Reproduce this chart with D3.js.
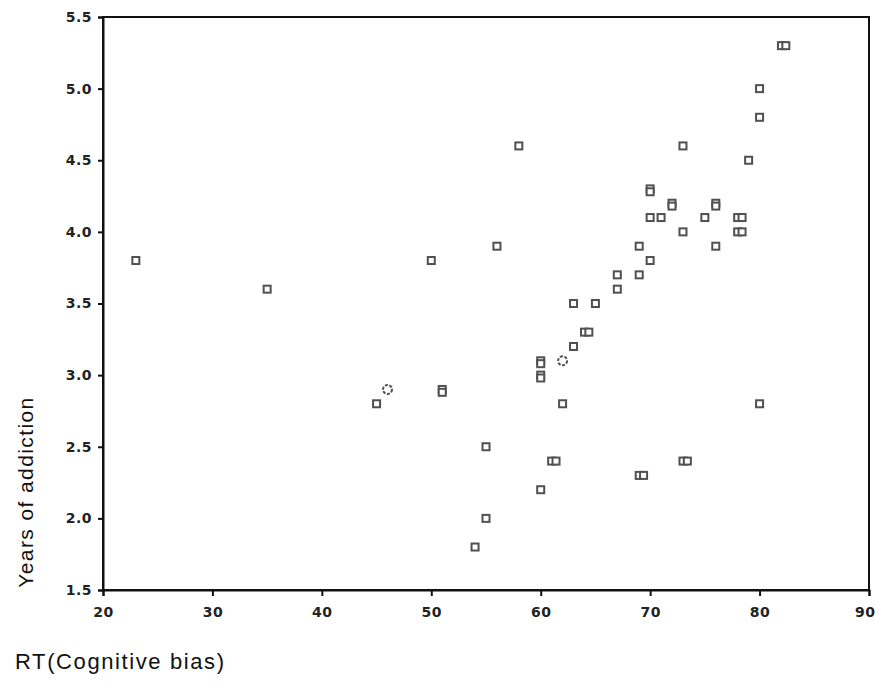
<!DOCTYPE html>
<html lang="en">
<head>
	<meta charset="UTF-8">
	<title>RT vs Years of addiction</title>
	<script type="text/javascript" src="https://cdn.jsdelivr.net/npm/d3@7/dist/d3.min.js"></script>
	<style>
		body {
			margin: 0;
			background: #fff;
		}

		svg text {
			font-family: "DejaVu Sans", sans-serif;
		}

		.tick text {
			font-size: 14px;
			font-weight: bold;
			letter-spacing: 0.5px;
			fill: #222;
		}

		.axis-title {
			font-family: "Liberation Sans", Arial, sans-serif;
			font-size: 22px;
			letter-spacing: 1.6px;
			fill: #111;
		}
	</style>
</head>
<body>
<div id="chart"></div>

<script type="text/javascript">
	// RT (cognitive bias) for each subject
	var rtValues = [23, 35, 45, 46, 50, 51, 51, 56, 58, 54, 55, 55, 60, 61, 61.4,
		60, 60, 60, 60, 62, 62, 63, 63, 64, 64.4, 65, 67, 67, 69, 69, 70, 70, 70, 70,
		71, 72, 72, 73, 73, 73, 73.4, 69, 69.4, 75, 76, 76, 76, 78, 78.4, 78, 78.4,
		79, 80, 80, 80, 82, 82.4];
	// years of addiction for each subject
	var yearsValues = [3.8, 3.6, 2.8, 2.9, 3.8, 2.9, 2.88, 3.9, 4.6, 1.8, 2.0, 2.5, 2.2, 2.4, 2.4,
		3.1, 3.08, 3.0, 2.98, 2.8, 3.1, 3.2, 3.5, 3.3, 3.3, 3.5, 3.6, 3.7, 3.7, 3.9, 3.8, 4.1, 4.3, 4.28,
		4.1, 4.2, 4.18, 4.6, 4.0, 2.4, 2.4, 2.3, 2.3, 4.1, 4.2, 4.18, 3.9, 4.1, 4.1, 4.0, 4.0,
		4.5, 5.0, 4.8, 2.8, 5.3, 5.3];
	// subjects drawn as circles instead of squares
	var circleIdx = [3, 20];

	var xTicks = [20, 30, 40, 50, 60, 70, 80, 90];
	var yTicks = [1.5, 2.0, 2.5, 3.0, 3.5, 4.0, 4.5, 5.0, 5.5];

	var points = rtValues.map(function (d, i) {
		return {rt: d, years: yearsValues[i], circle: circleIdx.indexOf(i) >= 0};
	});

	var W = 875, H = 687;
	var margin = {top: 17, left: 103, bottom: 97, right: 6};
	var width = W - margin.left - margin.right;
	var height = H - margin.top - margin.bottom;

	var svg = d3.select('#chart')
		.append('svg')
		.attr('width', W)
		.attr('height', H);

	var g = svg.append('g')
		.attr('transform', 'translate(' + margin.left + ',' + margin.top + ')');

	var x = d3.scaleLinear()
		.domain([20, 90])
		.range([0, width]);

	var y = d3.scaleLinear()
		.domain([1.5, 5.5])
		.range([height, 0]);

	// frame
	g.append('rect')
		.attr('x', 0)
		.attr('y', 0)
		.attr('width', width)
		.attr('height', height)
		.attr('fill', 'none')
		.attr('stroke', '#111')
		.attr('stroke-width', 2);

	var gx = g.append('g')
		.attr('transform', 'translate(0,' + height + ')')
		.call(d3.axisBottom(x).tickValues(xTicks).tickSize(6).tickPadding(11).tickFormat(d3.format('d')));

	var gy = g.append('g')
		.call(d3.axisLeft(y).tickValues(yTicks).tickSize(5).tickPadding(6).tickFormat(d3.format('.1f')));

	[gx, gy].forEach(function (a) {
		a.select('.domain').attr('stroke', '#111').attr('stroke-width', 2);
		a.selectAll('.tick line').attr('stroke', '#111').attr('stroke-width', 2);
		a.selectAll('.tick text').attr('font-size', null).attr('font-family', null);
	});

	// last x label sits on the window edge, keep it inside
	gx.selectAll('.tick text')
		.filter(function (d) { return d === 90; })
		.attr('text-anchor', 'end')
		.attr('dx', 6);

	// squares
	g.selectAll('.sq')
		.data(points.filter(function (d) { return !d.circle; }))
		.enter().append('rect')
		.attr('class', 'sq')
		.attr('x', function (d) { return x(d.rt) - 3.5; })
		.attr('y', function (d) { return y(d.years) - 3.5; })
		.attr('width', 7)
		.attr('height', 7)
		.attr('fill', '#fff')
		.attr('stroke', '#505050')
		.attr('stroke-width', 2);

	// circles
	g.selectAll('.ci')
		.data(points.filter(function (d) { return d.circle; }))
		.enter().append('circle')
		.attr('class', 'ci')
		.attr('cx', function (d) { return x(d.rt); })
		.attr('cy', function (d) { return y(d.years); })
		.attr('r', 4.5)
		.attr('fill', '#fff')
		.attr('stroke', '#505050')
		.attr('stroke-width', 2)
		.attr('stroke-dasharray', '3,1.5');

	svg.append('text')
		.attr('class', 'axis-title')
		.attr('transform', 'translate(33,492) rotate(-90)')
		.attr('text-anchor', 'middle')
		.style('font-size', '21px')
		.style('letter-spacing', '1.4px')
		.text('Years of addiction');

	svg.append('text')
		.attr('class', 'axis-title')
		.attr('x', 15)
		.attr('y', 669)
		.text('RT(Cognitive bias)');
</script>
</body>
</html>
